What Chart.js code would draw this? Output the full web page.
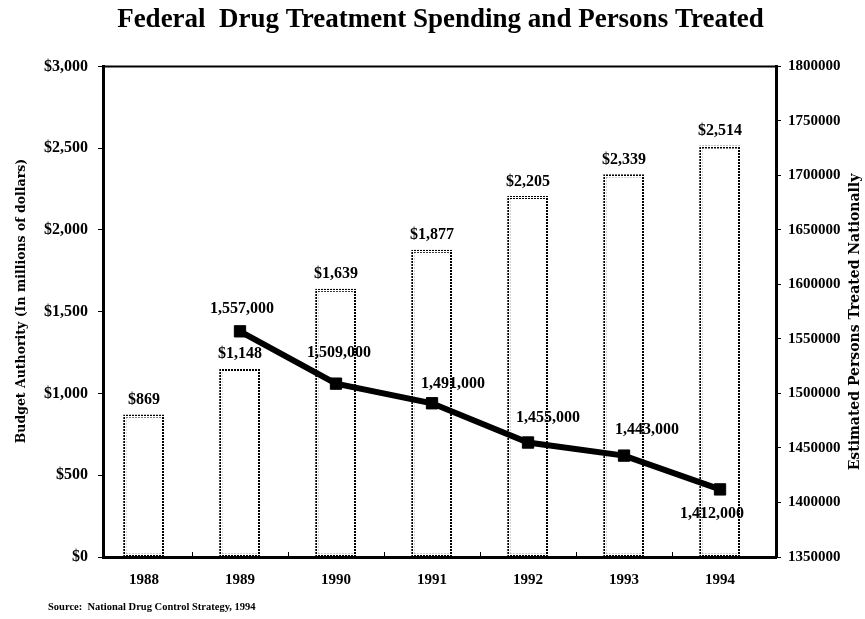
<!DOCTYPE html>
<html>
<head>
<meta charset="utf-8">
<script src="https://cdn.jsdelivr.net/npm/chart.js@4"></script>
<style>
  body { margin: 0; background: #fff; }
</style>
</head>
<body>
<canvas id="myChart" width="865" height="619"></canvas>
<script>
// data
const years = ['1988', '1989', '1990', '1991', '1992', '1993', '1994'];
const budget = [869, 1148, 1639, 1877, 2205, 2339, 2514];           // $ millions
const persons = [null, 1557000, 1509000, 1491000, 1455000, 1443000, 1412000];

// where each line label sits relative to its point (style only)
const personLabelShift = [[0, 0], [2, -22], [3, -31], [21, -19], [20, -25], [23, -26], [-8, 24]];

const serif = "'Liberation Serif', 'Times New Roman', serif";
const wide = "'DejaVu Serif', serif";
Chart.defaults.font.family = serif;
Chart.defaults.color = '#000';

// dotted border for the bars
const pc = document.createElement('canvas');
pc.width = 3; pc.height = 3;
const pctx = pc.getContext('2d');
pctx.fillStyle = '#000';
pctx.fillRect(0, 0, 2, 2);
const dotted = document.getElementById('myChart').getContext('2d').createPattern(pc, 'repeat');

const extras = {
  id: 'extras',
  afterDatasetsDraw(chart) {
    const ctx = chart.ctx;
    const area = chart.chartArea;
    const xs = chart.scales.x;
    ctx.save();

    // top frame line
    ctx.strokeStyle = '#000';
    ctx.lineWidth = 2;
    ctx.beginPath();
    ctx.moveTo(area.left, area.top);
    ctx.lineTo(area.right, area.top);
    ctx.stroke();

    // small marks between the years
    ctx.lineWidth = 1;
    for (let i = 0; i < years.length - 1; i++) {
      const px = Math.round(xs.getPixelForValue(i + 0.5)) + 0.5;
      ctx.beginPath();
      ctx.moveTo(px, area.bottom - 5);
      ctx.lineTo(px, area.bottom + 2);
      ctx.stroke();
    }

    ctx.fillStyle = '#000';
    ctx.textAlign = 'center';
    ctx.textBaseline = 'middle';

    // bar labels
    ctx.font = 'bold 16px ' + serif;
    chart.getDatasetMeta(0).data.forEach((bar, i) => {
      ctx.fillText('$' + budget[i].toLocaleString('en-US'), bar.x, bar.y - 15);
    });

    // line labels
    chart.getDatasetMeta(1).data.forEach((pt, i) => {
      if (persons[i] == null) return;
      const s = personLabelShift[i];
      ctx.fillText(persons[i].toLocaleString('en-US'), pt.x + s[0], pt.y + s[1]);
    });

    // axis titles, both read bottom to top
    ctx.font = 'bold 12.5px ' + wide;
    ctx.save();
    ctx.translate(22, 301);
    ctx.rotate(-Math.PI / 2);
    ctx.fillText('Budget Authority (In millions of dollars)', 0, 0);
    ctx.restore();

    ctx.font = 'bold 14px ' + wide;
    ctx.save();
    ctx.translate(855, 322);
    ctx.rotate(-Math.PI / 2);
    ctx.fillText('Estimated Persons Treated Nationally', 0, 0);
    ctx.restore();

    // source note
    ctx.font = 'bold 10.5px ' + serif;
    ctx.textAlign = 'left';
    ctx.fillText('Source:  National Drug Control Strategy, 1994', 48, 607);

    ctx.restore();
  }
};

new Chart(document.getElementById('myChart'), {
  type: 'bar',
  data: {
    datasets: [
      {
        type: 'bar',
        label: 'Budget',
        data: budget.map((v, i) => ({ x: i, y: v })),
        yAxisID: 'y',
        backgroundColor: '#fff',
        borderColor: dotted,
        borderWidth: 3,
        borderSkipped: false,
        barThickness: 41,
        order: 2
      },
      {
        type: 'line',
        label: 'Persons',
        data: persons.map((v, i) => ({ x: i, y: v })),
        yAxisID: 'y1',
        borderColor: '#000',
        backgroundColor: '#000',
        borderWidth: 6,
        pointStyle: 'rect',
        pointRadius: 8,
        pointBorderWidth: 1,
        tension: 0,
        order: 1
      }
    ]
  },
  options: {
    responsive: false,
    animation: false,
    layout: { padding: { left: 16, right: 0, top: 0, bottom: 0 } },
    plugins: {
      legend: { display: false },
      tooltip: { enabled: false },
      title: {
        display: true,
        text: 'Federal  Drug Treatment Spending and Persons Treated',
        font: { size: 27, weight: 'bold', family: serif },
        color: '#000',
        padding: { top: 4, bottom: 30 }
      }
    },
    scales: {
      x: {
        type: 'linear',
        offset: false,
        min: -0.427,
        max: 6.583,
        afterBuildTicks: (s) => { s.ticks = years.map((y, i) => ({ value: i })); },
        afterFit: (s) => { s.height = 62; },
        ticks: {
          callback: (v) => years[v],
          font: { size: 15, weight: 'bold' },
          padding: 14,
          maxRotation: 0
        },
        grid: { display: false, drawTicks: false, offset: false },
        border: { color: '#000', width: 3 }
      },
      y: {
        position: 'left',
        min: 0,
        max: 3000,
        afterFit: (s) => { s.width = 87; },
        ticks: {
          stepSize: 500,
          callback: (v) => '$' + v.toLocaleString('en-US'),
          font: { size: 16, weight: 'bold' },
          padding: 10
        },
        grid: { drawOnChartArea: false, tickLength: 5, color: '#000' },
        border: { color: '#000', width: 3 }
      },
      y1: {
        position: 'right',
        min: 1350000,
        max: 1800000,
        afterFit: (s) => { s.width = 89; },
        ticks: {
          stepSize: 50000,
          callback: (v) => String(v),
          font: { size: 15, weight: 'bold' },
          padding: 7
        },
        grid: { drawOnChartArea: false, tickLength: 5, color: '#000' },
        border: { color: '#000', width: 3 }
      }
    }
  },
  plugins: [extras]
});
</script>
</body>
</html>
